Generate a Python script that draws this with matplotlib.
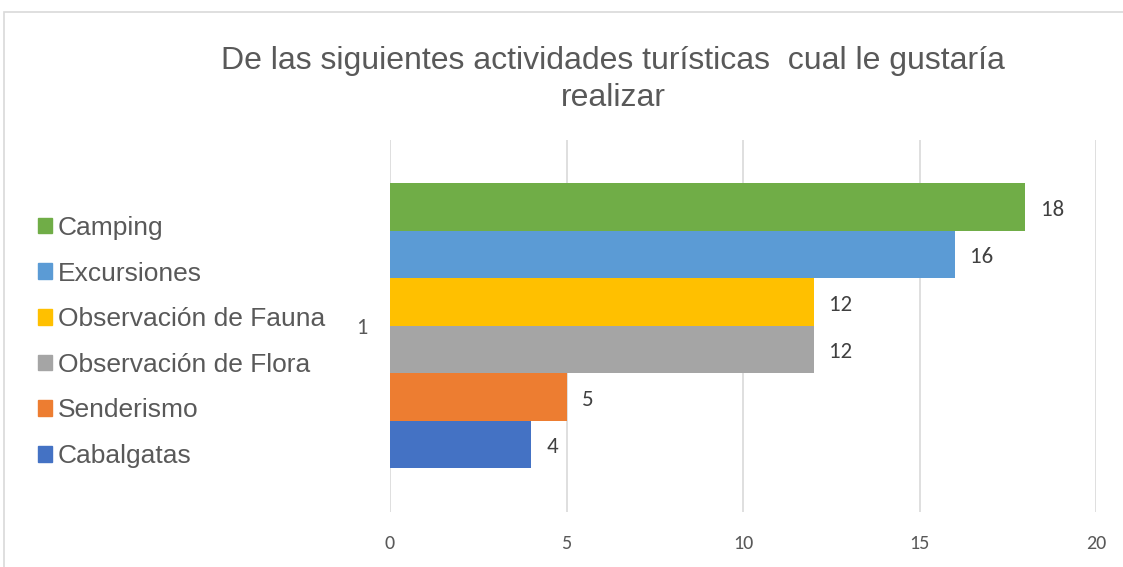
import matplotlib.pyplot as plt
from matplotlib.patches import Rectangle, Patch

# datos de la encuesta (una sola categoria "1")
categoria = ['1']
series = ['Cabalgatas', 'Senderismo', 'Observación de Flora',
          'Observación de Fauna', 'Excursiones', 'Camping']
valores = [4, 5, 12, 12, 16, 18]
colores = ['#4472C4', '#ED7D31', '#A5A5A5', '#FFC000', '#5B9BD5', '#70AD47']
ticks_x = [0, 5, 10, 15, 20]

titulo = 'De las siguientes actividades turísticas  cual le gustaría\nrealizar'

gris = '#595959'
fuente_num = ['Carlito', 'DejaVu Sans']
fuente_texto = ['Liberation Sans', 'DejaVu Sans']

fig = plt.figure(figsize=(11.23, 5.67), dpi=100)
ax = fig.add_axes([390 / 1123, 1 - 512 / 567, (1096 - 390) / 1123, (512 - 139.5) / 567])

# borde del area del grafico
fig.patches.append(Rectangle((4 / 1123, -0.05), 1.2, 1 - 12 / 567 + 0.05,
                             transform=fig.transFigure, fill=False,
                             edgecolor='#d9d9d9', linewidth=1.2))

ancho_grupo = 285 / 372
ancho = ancho_grupo / len(series)
for i, (nombre, v, c) in enumerate(zip(series, valores, colores)):
    y = -ancho_grupo / 2 + ancho * (i + 0.5)
    ax.barh(y, v, height=ancho, color=c, label=nombre, zorder=2)
    ax.annotate(str(v), (v, y), xytext=(11, -2), textcoords='offset points',
                ha='left', va='center', fontsize=16.5, color='#404040',
                family=fuente_num)

ax.set_xlim(0, 20)
ax.set_ylim(-0.5, 0.5)
ax.set_xticks(ticks_x)
ax.set_xticklabels([str(t) for t in ticks_x], family=fuente_num, fontsize=14.5, color=gris)
ax.set_yticks([0])
ax.set_yticklabels(categoria, family=fuente_num, fontsize=16, color=gris)
ax.tick_params(length=0)
ax.tick_params(axis='x', pad=16.5)
ax.tick_params(axis='y', pad=16)
ax.grid(axis='x', color='#d9d9d9', linewidth=1.2, zorder=0)
for s in ax.spines.values():
    s.set_visible(False)

fig.text(613 / 1123, 1 - 46 / 567, titulo, ha='center', va='top',
         fontsize=23, color=gris, family=fuente_texto, linespacing=1.32)

handles = [Patch(color=c) for c in colores[::-1]]
fig.legend(handles, series[::-1], loc='center left',
           bbox_to_anchor=(38 / 1123, 1 - 342 / 567), frameon=False,
           labelcolor=gris, handlelength=0.53, handleheight=0.53,
           handletextpad=0.23, labelspacing=0.82, borderpad=0, borderaxespad=0,
           prop={'family': fuente_texto, 'size': 19})

fig.savefig('out.png', dpi=100)
